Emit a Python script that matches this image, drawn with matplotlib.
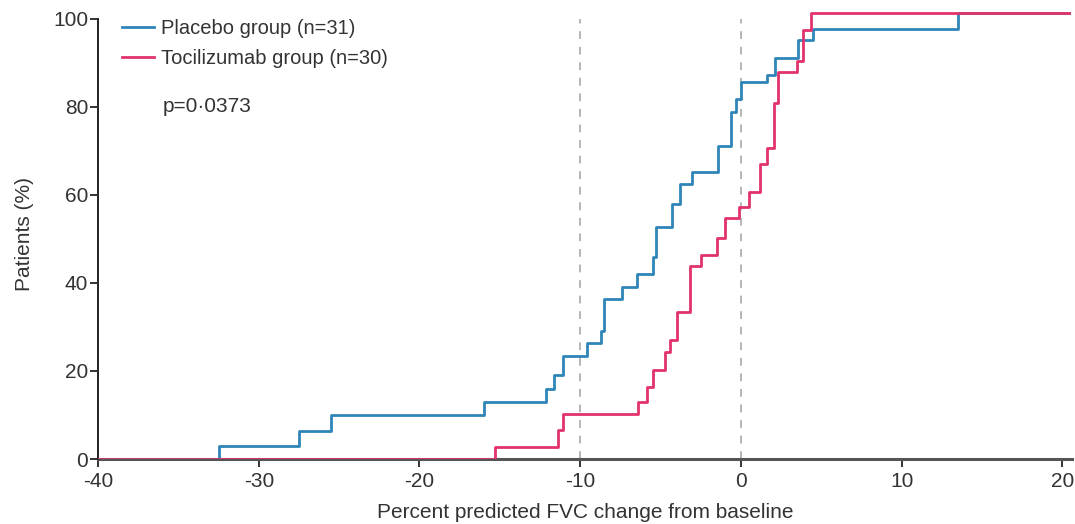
import matplotlib
matplotlib.use("Agg")
import matplotlib.pyplot as plt
from matplotlib import font_manager

# ---- data ----
x_start = -40.0
x_end = 20.4

placebo_label = "Placebo group (n=31)"
placebo_x = [-32.5, -27.5, -25.5, -16.0, -12.15, -11.63, -11.07, -9.55, -8.72,
             -8.5, -7.37, -6.48, -5.50, -5.30, -4.26, -3.78, -3.07, -1.41,
             -0.62, -0.31, 0.0, 1.62, 2.15, 3.57, 4.47, 13.5]
placebo_y = [3.0, 6.3, 9.9, 13.0, 16.0, 19.0, 23.3, 26.3, 29.0,
             36.3, 39.0, 42.0, 45.8, 52.8, 58.0, 62.4, 65.3, 71.1,
             78.9, 81.7, 85.6, 87.3, 91.1, 95.1, 97.7, 101.3]

toci_label = "Tocilizumab group (n=30)"
toci_x = [-15.3, -11.36, -11.07, -6.4, -5.82, -5.45, -4.74, -4.40, -3.95,
          -3.17, -2.49, -1.50, -1.02, -0.14, 0.48, 1.2, 1.63, 2.08, 2.29,
          3.46, 3.84, 4.36]
toci_y = [2.8, 6.6, 10.2, 13.0, 16.3, 20.2, 24.4, 27.0, 33.5,
          43.9, 46.4, 50.2, 54.8, 57.3, 60.6, 67.0, 70.6, 80.8, 87.9,
          90.3, 97.5, 101.3]

ref_lines = [-10, 0]
x_ticks = [-40, -30, -20, -10, 0, 10, 20]
y_ticks = [0, 20, 40, 60, 80, 100]
p_text = "p=0\u00b70373"
x_label = "Percent predicted FVC change from baseline"
y_label = "Patients (%)"

# ---- style ----
names = {f.name for f in font_manager.fontManager.ttflist}
fam = "Liberation Sans Narrow" if "Liberation Sans Narrow" in names else "Liberation Sans"
plt.rcParams["font.family"] = [fam, "DejaVu Sans"]
plt.rcParams["axes.unicode_minus"] = False

blue = "#2f84b8"
red = "#e2336b"
text_col = "#333333"

fig = plt.figure(figsize=(10.75, 5.24), dpi=100)
ax = fig.add_axes([0.0912, 0.124, 0.906, 0.857])

# reference dashed lines
for xv in ref_lines:
    ax.plot([xv, xv], [0, 100], color="#b5b5b5", lw=1.4, ls=(0, (4, 4)), zorder=1)

# step curves
px = [x_start] + placebo_x + [x_end]
py = [0] + placebo_y + [placebo_y[-1]]
ax.step(px, py, where="post", color=blue, lw=2.0, label=placebo_label, zorder=3)

tx = [x_start] + toci_x + [x_end]
ty = [0] + toci_y + [toci_y[-1]]
ax.step(tx, ty, where="post", color=red, lw=2.0, label=toci_label, zorder=4)

ax.set_xlim(-40, 20.6)
ax.set_ylim(0, 102)
ax.set_xticks(x_ticks)
ax.set_yticks(y_ticks)

for s in ["top", "right"]:
    ax.spines[s].set_visible(False)
ax.spines["left"].set_bounds(0, 100)
ax.spines["left"].set_color("#222222")
ax.spines["left"].set_linewidth(1.4)
ax.spines["bottom"].set_color("#555555")
ax.spines["bottom"].set_linewidth(2.2)
ax.spines["bottom"].set_zorder(2)

ax.tick_params(axis="both", direction="out", length=6, width=1.4,
               color="#333333", labelsize=15, labelcolor=text_col)
ax.tick_params(axis="y", pad=1)
ax.tick_params(axis="x", pad=3)

ax.set_xlabel(x_label, fontsize=15, color=text_col, labelpad=9)
ax.set_ylabel(y_label, fontsize=15, color=text_col, labelpad=14)

leg = ax.legend(loc="upper left", bbox_to_anchor=(0.016, 0.997), frameon=False,
                fontsize=14.5, handlelength=1.6, handletextpad=0.35,
                labelspacing=0.55, borderaxespad=0)
for t in leg.get_texts():
    t.set_color(text_col)

ax.text(0.066, 0.785, p_text, transform=ax.transAxes, fontsize=15,
        color=text_col, ha="left", va="center")

fig.savefig("out.png", dpi=100)
